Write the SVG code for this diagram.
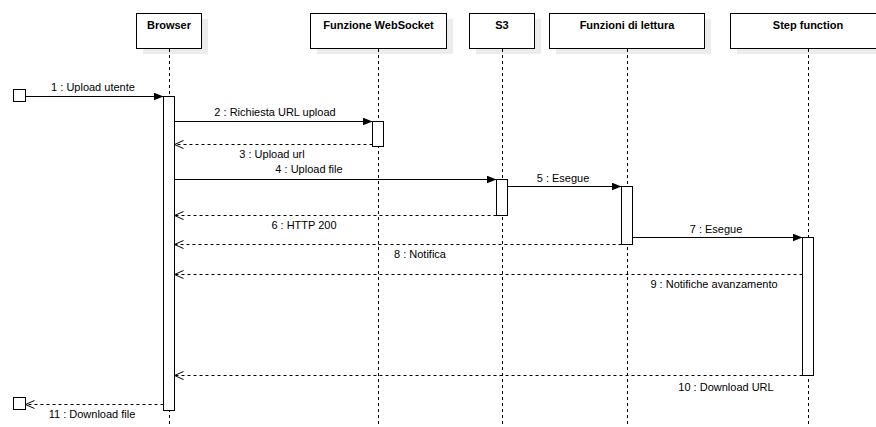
<svg xmlns="http://www.w3.org/2000/svg" width="876" height="427" viewBox="0 0 876 427">
  <style>
    .head { fill: #ffffff; stroke: #000000; stroke-width: 1; }
    .shadow { fill: #ececec; stroke: none; }
    .title { font-family: "Liberation Sans", Arial, sans-serif; font-size: 11px; font-weight: bold; fill: #000000; text-anchor: middle; }
    .life { stroke: #000000; stroke-width: 1; stroke-dasharray: 3 3; fill: none; }
    .act { fill: #ffffff; stroke: #000000; stroke-width: 1; }
    .call { stroke: #000000; stroke-width: 1; fill: none; marker-end: url(#filled); }
    .ret { stroke: #000000; stroke-width: 1; stroke-dasharray: 3 3; fill: none; marker-end: url(#open); }
    .lbl { font-family: "Liberation Sans", Arial, sans-serif; font-size: 11px; fill: #000000; text-anchor: middle; }
    .gate { fill: #ffffff; stroke: #000000; stroke-width: 1; }
  </style>
  <defs>
    <marker id="filled" markerUnits="userSpaceOnUse" markerWidth="12" markerHeight="10" refX="10" refY="4" orient="auto">
      <path d="M0,0 L10,4 L0,8 Z" fill="#000000"/>
    </marker>
    <marker id="open" markerUnits="userSpaceOnUse" markerWidth="12" markerHeight="10" refX="10" refY="4.5" orient="auto">
      <path d="M1,0.5 L10,4.5 L1,8.5" fill="none" stroke="#000000" stroke-width="1"/>
    </marker>
  </defs>
  <rect width="876" height="427" fill="#ffffff"/>

  <!-- participants with lifelines -->
  <g id="browser">
    <rect class="shadow" x="143" y="19" width="65" height="35"/>
    <rect class="head" x="136.5" y="13.5" width="65" height="35"/>
    <text class="title" x="169" y="29">Browser</text>
    <line class="life" x1="169.5" y1="49" x2="169.5" y2="427"/>
    <rect class="act" x="163.5" y="96.5" width="11" height="314"/>
  </g>
  <g id="websocket">
    <rect class="shadow" x="317" y="19" width="136" height="35"/>
    <rect class="head" x="310.5" y="13.5" width="136" height="35"/>
    <text class="title" x="378.5" y="29">Funzione WebSocket</text>
    <line class="life" x1="378.5" y1="49" x2="378.5" y2="427"/>
    <rect class="act" x="372.5" y="121.5" width="11" height="25"/>
  </g>
  <g id="s3">
    <rect class="shadow" x="476" y="19" width="65" height="35"/>
    <rect class="head" x="469.5" y="13.5" width="65" height="35"/>
    <text class="title" x="502" y="29">S3</text>
    <line class="life" x1="502.5" y1="49" x2="502.5" y2="427"/>
    <rect class="act" x="496.5" y="179.5" width="11" height="36"/>
  </g>
  <g id="lettura">
    <rect class="shadow" x="556" y="19" width="155" height="35"/>
    <rect class="head" x="549.5" y="13.5" width="155" height="35"/>
    <text class="title" x="627" y="29">Funzioni di lettura</text>
    <line class="life" x1="627.5" y1="49" x2="627.5" y2="427"/>
    <rect class="act" x="621.5" y="186.5" width="11" height="58"/>
  </g>
  <g id="stepfunction">
    <rect class="shadow" x="737" y="19" width="157" height="35"/>
    <rect class="head" x="730.5" y="13.5" width="157" height="35"/>
    <text class="title" x="808" y="29">Step function</text>
    <line class="life" x1="808.5" y1="49" x2="808.5" y2="427"/>
    <rect class="act" x="802.5" y="237.5" width="11" height="138"/>
  </g>

  <!-- messages -->
  <g id="messages">
    <rect class="gate" x="13.5" y="89.5" width="12" height="12"/>
    <line class="call" x1="25.5" y1="96.5" x2="163.5" y2="96.5"/>
    <text class="lbl" x="93" y="91">1 : Upload utente</text>

    <line class="call" x1="174.5" y1="121.5" x2="372.5" y2="121.5"/>
    <text class="lbl" x="275" y="116">2 : Richiesta URL upload</text>

    <line class="ret" x1="372.5" y1="144.5" x2="174.5" y2="144.5"/>
    <text class="lbl" x="272" y="158">3 : Upload url</text>

    <line class="call" x1="174.5" y1="179.5" x2="496.5" y2="179.5"/>
    <text class="lbl" x="309" y="173">4 : Upload file</text>

    <line class="call" x1="507.5" y1="186.5" x2="621.5" y2="186.5"/>
    <text class="lbl" x="563" y="182">5 : Esegue</text>

    <line class="ret" x1="496.5" y1="215.5" x2="174.5" y2="215.5"/>
    <text class="lbl" x="304" y="229">6 : HTTP 200</text>

    <line class="call" x1="632.5" y1="237.5" x2="802.5" y2="237.5"/>
    <text class="lbl" x="716" y="233">7 : Esegue</text>

    <line class="ret" x1="621.5" y1="244.5" x2="174.5" y2="244.5"/>
    <text class="lbl" x="420" y="258">8 : Notifica</text>

    <line class="ret" x1="802.5" y1="274.5" x2="174.5" y2="274.5"/>
    <text class="lbl" x="714" y="288">9 : Notifiche avanzamento</text>

    <line class="ret" x1="802.5" y1="375.5" x2="174.5" y2="375.5"/>
    <text class="lbl" x="726" y="391">10 : Download URL</text>

    <rect class="gate" x="13.5" y="397.5" width="12" height="12"/>
    <line class="ret" x1="163.5" y1="404.5" x2="25.5" y2="404.5"/>
    <text class="lbl" x="92" y="418">11 : Download file</text>
  </g>
</svg>
